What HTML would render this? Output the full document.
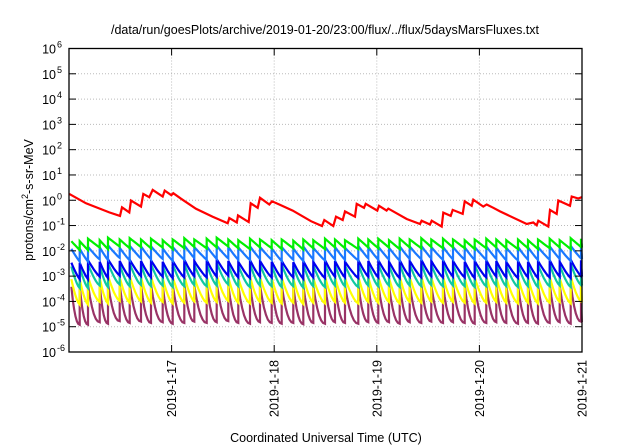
<!DOCTYPE html>
<html><head><meta charset="utf-8"><style>
body{margin:0;background:#fff;}
svg{display:block;font-family:"Liberation Sans",sans-serif;}
</style></head><body>
<svg id="chart" width="640" height="448" viewBox="0 0 640 448">
<rect width="640" height="448" fill="#fff"/>
<text x="325" y="34" font-size="12.5" text-anchor="middle" fill="#000">/data/run/goesPlots/archive/2019-01-20/23:00/flux/../flux/5daysMarsFluxes.txt</text>
<g id="grid"></g><g id="series"></g><g id="axes"></g>
<text x="326" y="442" font-size="12.5" text-anchor="middle">Coordinated Universal Time (UTC)</text>
<text transform="translate(33,200) rotate(-90)" font-size="12.5" text-anchor="middle">protons/cm<tspan dy="-5" font-size="9">2</tspan><tspan dy="5">-s-sr-MeV</tspan></text>
</svg>
<script>
const xTickDays=[1,2,3,4,5];
const xTickLabels=["2019-1-17","2019-1-18","2019-1-19","2019-1-20","2019-1-21"];
const yTickExps=[-6,-5,-4,-3,-2,-1,0,1,2,3,4,5,6];
const redT=[0.003,0.166,0.393,0.497,0.517,0.588,0.604,0.702,0.724,0.783,0.816,0.913,0.933,0.997,1.017,1.092,1.238,1.401,1.547,1.562,1.635,1.647,1.751,1.771,1.839,1.862,1.952,1.979,2.050,2.180,2.359,2.466,2.488,2.576,2.602,2.668,2.690,2.788,2.804,2.875,2.892,3.005,3.021,3.096,3.112,3.291,3.421,3.437,3.519,3.535,3.633,3.648,3.720,3.740,3.837,3.857,3.925,3.941,4.038,4.071,4.135,4.201,4.461,4.525,4.558,4.574,4.672,4.688,4.753,4.769,4.883,4.900,4.964,4.997];
const redLog=[0.25,-0.12,-0.48,-0.62,-0.28,-0.48,-0.01,-0.25,0.25,0.12,0.41,0.15,0.38,0.20,0.28,0.06,-0.34,-0.65,-0.91,-0.70,-0.88,-0.60,-0.86,-0.12,-0.30,0.10,-0.17,-0.04,-0.17,-0.41,-0.83,-1.02,-0.78,-1.02,-0.65,-0.78,-0.44,-0.65,-0.14,-0.30,-0.14,-0.41,-0.22,-0.41,-0.33,-0.74,-0.94,-0.81,-0.96,-0.81,-1.04,-0.49,-0.62,-0.38,-0.54,-0.04,-0.22,0.02,-0.25,-0.17,-0.30,-0.44,-0.94,-0.88,-0.99,-0.81,-1.04,-0.38,-0.54,-0.01,-0.22,0.15,0.07,0.12];
const peakTimes=[0.104,0.185,0.299,0.380,0.494,0.592,0.702,0.799,0.913,1.011,1.124,1.221,1.342,1.440,1.553,1.650,1.764,1.862,1.976,2.073,2.186,2.284,2.381,2.495,2.593,2.690,2.820,2.917,3.015,3.119,3.223,3.321,3.434,3.531,3.645,3.743,3.857,3.954,4.067,4.165,4.262,4.376,4.474,4.571,4.685,4.783,4.890,4.990];
const greenPeak=[-1.62,-1.52,-1.58,-1.48,-1.55,-1.50,-1.55,-1.52,-1.58,-1.55,-1.50,-1.55,-1.52,-1.48,-1.55,-1.58,-1.52,-1.55,-1.58,-1.55,-1.60,-1.55,-1.58,-1.52,-1.55,-1.58,-1.52,-1.55,-1.52,-1.58,-1.52,-1.55,-1.50,-1.55,-1.52,-1.55,-1.58,-1.55,-1.52,-1.55,-1.58,-1.55,-1.58,-1.55,-1.52,-1.58,-1.50,-1.52];
const lblueOffset=[-0.30,-0.32,-0.28,-0.30,-0.33,-0.30,-0.28,-0.30,-0.32,-0.30,-0.28,-0.30,-0.30,-0.32,-0.30,-0.28,-0.30,-0.30,-0.32,-0.30,-0.30,-0.28,-0.30,-0.32,-0.30,-0.30,-0.28,-0.30,-0.32,-0.30,-0.30,-0.28,-0.30,-0.30,-0.32,-0.30,-0.28,-0.30,-0.30,-0.32,-0.30,-0.30,-0.28,-0.30,-0.30,-0.32,-0.30,-0.30];
const seriesNames=["green","light-blue","blue","teal","yellow","purple"];
const seriesColors=["#00f000","#1a78ff","#0000f0","#10c8a0","#ffff00","#993366"];
const seriesPeakShift=[0,-0.30,-0.85,-1.0,-1.5,-1.8];
const seriesDrop=[0.35,0.5,0.65,0.85,1.0,1.5];
const seriesCurve=[1,1.1,1.2,1.4,1.5,2.2];

const X0=69,X1=582,YT=48.5,YB=352;
function xs(t){return X0+(t/5)*(X1-X0);}
function ys(l){return YB-(l+6)/12*(YB-YT);}
const NS="http://www.w3.org/2000/svg";
function mk(tag,attrs,parent){const e=document.createElementNS(NS,tag);for(const k in attrs)e.setAttribute(k,attrs[k]);parent.appendChild(e);return e;}
const grid=document.getElementById('grid'),axes=document.getElementById('axes'),ser=document.getElementById('series');
yTickExps.forEach(ex=>{
 const y=ys(ex);
 if(ex>-6&&ex<6){const g=mk('line',{x1:X0,x2:X1,y1:y,y2:y,stroke:'#bbb','stroke-width':1,'stroke-dasharray':'1,2'},grid);
 
 }
 const t1=mk('line',{x1:X0,x2:X0+7,y1:y,y2:y,stroke:'#000','stroke-width':1},axes);
 
 
 const t2=mk('line',{x1:X1-7,x2:X1,y1:y,y2:y,stroke:'#000','stroke-width':1},axes);
 
 
 const tx=mk('text',{x:56,y:y+5,'font-size':12.5,'text-anchor':'end'},axes);
 
 
 tx.textContent='10';
 const sup=mk('tspan',{x:57,dy:-6,'font-size':9,'text-anchor':'start'},tx);sup.textContent=String(ex);
});
xTickDays.forEach((d,i)=>{
 const x=xs(d);
 if(d<5){const g=mk('line',{x1:x,x2:x,y1:YT,y2:YB,stroke:'#bbb','stroke-width':1,'stroke-dasharray':'1,2'},grid);
 
 }
 const t=mk('line',{x1:x,x2:x,y1:YB-7,y2:YB,stroke:'#000','stroke-width':1},axes);
 
 
 const t2=mk('line',{x1:x,x2:x,y1:YT,y2:YT+7,stroke:'#000','stroke-width':1},axes);
 
 
 const tx=mk('text',{transform:`translate(${x+4.5},${360}) rotate(-90)`,'font-size':12.5,'text-anchor':'end'},axes);
 
 
 tx.textContent=xTickLabels[i];
});
const frame=mk('rect',{x:X0,y:YT,width:X1-X0,height:YB-YT,fill:'none',stroke:'#000','stroke-width':1.3},axes);



for(let s=seriesNames.length-1;s>=0;s--){
 const pk=greenPeak.map((v,i)=>v+seriesPeakShift[s]+(s===1?lblueOffset[i]+0.3:0));
 const drop=seriesDrop[s],cv=seriesCurve[s];
 const pts=[];
 const prevT=peakTimes[0]-(peakTimes[1]-peakTimes[0]);
 const seg=(t0,t1,p)=>{const n=6;for(let k=0;k<=n;k++){const f=k/n;const t=t0+(t1-t0)*f;if(t<0)continue;const g=1-Math.pow(1-f,cv);pts.push([xs(t),ys(p-drop*g)]);}};
 seg(prevT,peakTimes[0],pk[0]);
 for(let i=0;i<peakTimes.length;i++){
  const tn=i+1<peakTimes.length?peakTimes[i+1]:5.0;
  seg(peakTimes[i],Math.min(tn,5),pk[i]);
 }
 const p=mk('polyline',{points:pts.map(q=>q[0].toFixed(1)+','+q[1].toFixed(1)).join(' '),fill:'none',stroke:seriesColors[s],'stroke-width':2.2,'stroke-linejoin':'miter'},ser);
 
 
}
const red=mk('polyline',{points:redT.map((t,i)=>xs(t).toFixed(1)+','+ys(redLog[i]).toFixed(1)).join(' '),fill:'none',stroke:'#ff0000','stroke-width':2.2},ser);


</script>
</body></html>
